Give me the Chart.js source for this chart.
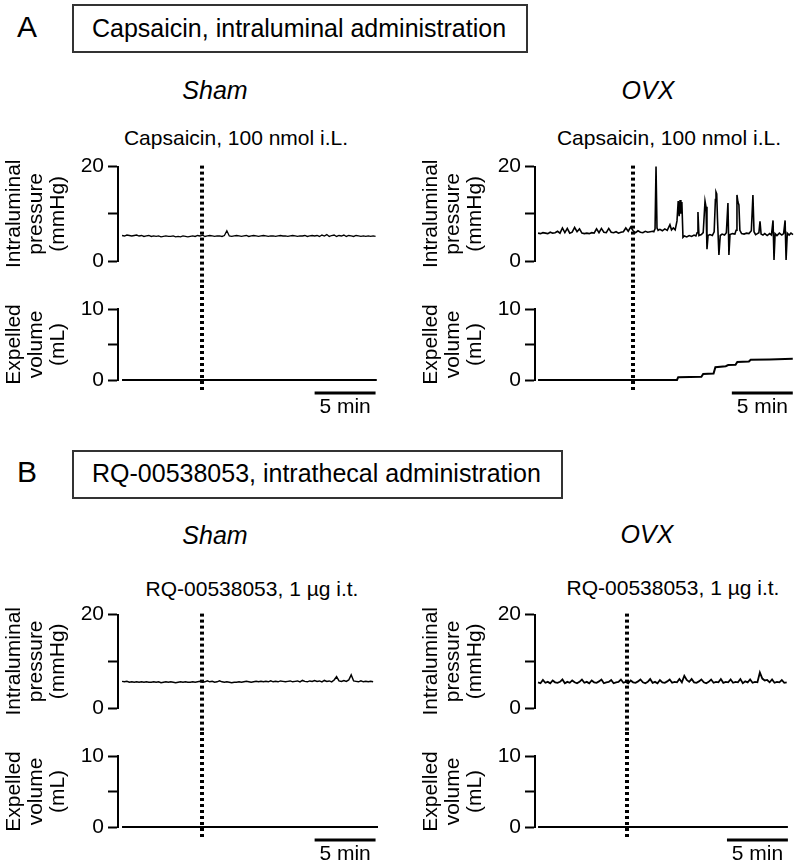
<!DOCTYPE html>
<html>
<head>
<meta charset="utf-8">
<script src="https://cdn.jsdelivr.net/npm/chart.js@4.4.1/dist/chart.umd.min.js"></script>
<style>
body{margin:0;background:#fff;font-family:"Liberation Sans",Arial,sans-serif;}
#wrap{position:relative;width:796px;height:865px;overflow:hidden;}
canvas{position:absolute;}
.lbl{position:absolute;color:#000;white-space:nowrap;}
.c{transform:translateX(-50%);}
.box{position:absolute;border:2px solid #333;box-sizing:border-box;}
</style>
</head>
<body>
<div id="wrap">
  <div class="lbl" style="left:17px;top:12px;font-size:30px;line-height:30px">A</div>
  <div class="box" style="left:72px;top:4px;width:456px;height:49px"></div>
  <div class="lbl" style="left:92px;top:16px;font-size:25px;line-height:25px">Capsaicin, intraluminal administration</div>
  <div class="lbl c" style="left:215px;top:78px;font-size:25px;line-height:25px;font-style:italic">Sham</div>
  <div class="lbl c" style="left:648px;top:78px;font-size:25px;line-height:25px;font-style:italic">OVX</div>
  <div class="lbl c" style="left:236px;top:127px;font-size:21px;line-height:21px">Capsaicin, 100 nmol i.L.</div>
  <div class="lbl c" style="left:669px;top:127px;font-size:21px;line-height:21px">Capsaicin, 100 nmol i.L.</div>

  <div class="lbl" style="left:17px;top:457px;font-size:30px;line-height:30px">B</div>
  <div class="box" style="left:72px;top:450px;width:491px;height:49px"></div>
  <div class="lbl" style="left:92px;top:461px;font-size:25px;line-height:25px">RQ-00538053, intrathecal administration</div>
  <div class="lbl c" style="left:215px;top:523px;font-size:25px;line-height:25px;font-style:italic">Sham</div>
  <div class="lbl c" style="left:647px;top:522px;font-size:25px;line-height:25px;font-style:italic">OVX</div>
  <div class="lbl c" style="left:252px;top:578px;font-size:21px;line-height:21px">RQ-00538053, 1 µg i.t.</div>
  <div class="lbl c" style="left:673px;top:577px;font-size:21px;line-height:21px">RQ-00538053, 1 µg i.t.</div>

  <canvas id="p0"></canvas><canvas id="v0"></canvas>
  <canvas id="p1"></canvas><canvas id="v1"></canvas>
  <canvas id="p2"></canvas><canvas id="v2"></canvas>
  <canvas id="p3"></canvas><canvas id="v3"></canvas>
</div>
<script>
// sampling step of the uniform traces (min)
const dt = 0.2;

// intraluminal pressure (mmHg)
const shamA_pressure = [
  5.4,5.3,5.5,5.4,5.3,5.4,5.5,5.3,5.4,5.2,
  5.3,5.4,5.2,5.3,5.2,5.3,5.1,5.2,5.3,5.2,
  5.2,5.3,5.1,5.2,5.1,5.3,5.2,5.1,5.2,5.3,
  5.2,5.4,5.3,5.5,5.2,5.3,5.4,5.3,5.2,5.3,
  5.3,5.2,5.4,6.4,5.3,5.2,5.3,5.4,5.3,5.2,
  5.3,5.4,5.2,5.3,5.4,5.3,5.2,5.3,5.4,5.3,
  5.2,5.3,5.3,5.2,5.3,5.4,5.3,5.3,5.2,5.3,
  5.4,5.3,5.2,5.3,5.3,5.4,5.2,5.3,5.4,5.3,
  5.4,5.2,5.5,5.3,5.6,5.2,5.4,5.5,5.2,5.4,
  5.3,5.5,5.2,5.4,5.3,5.2,5.4,5.3,5.2,5.3,
  5.2,5.3,5.2,5.3,5.2
];
const ovxA_pressure_base = [
  5.9,5.8,6.0,5.9,5.8,6.1,5.9,6.0,6.3,5.9,
  7.0,6.0,6.9,5.9,6.1,7.1,6.2,6.8,5.9,5.8,
  5.9,5.8,6.0,5.9,6.8,6.0,6.9,6.1,6.0,6.9,
  6.1,6.0,6.2,5.9,6.1,6.2,7.0,6.3,7.2,6.4,
  6.0,6.4,6.1,6.0,6.3,6.1,6.2,6.3
];
// [time (min), pressure] after the first contraction
const ovxA_pressure_after = [
  [9.5,6.2],[9.6,6.8],[9.68,20],[9.76,7.0],[9.85,6.5],[10.0,6.7],[10.2,6.4],[10.4,6.8],
  [10.6,6.5],[10.82,7.7],[10.95,6.6],[11.1,7.0],[11.25,6.6],[11.4,8.5],[11.5,12.7],[11.58,9.5],
  [11.65,12.9],[11.72,10.0],[11.8,12.5],[11.89,5.0],[12.0,5.3],[12.2,5.1],[12.4,5.4],[12.6,5.2],
  [12.8,5.5],[12.95,5.3],[13.05,6.0],[13.12,10.4],[13.2,5.4],[13.4,5.6],[13.55,6.0],[13.7,12.7],
  [13.78,11.5],[13.86,2.5],[13.95,5.4],[14.1,5.6],[14.3,5.4],[14.45,6.2],[14.55,13.0],[14.6,14.6],
  [14.66,14.2],[14.72,9.0],[14.84,1.3],[14.95,5.4],[15.1,5.7],[15.3,5.5],[15.45,6.0],[15.58,12.3],
  [15.66,1.3],[15.75,5.6],[15.95,5.8],[16.15,5.7],[16.25,6.5],[16.32,14.0],[16.4,12.5],[16.48,11.9],
  [16.56,6.5],[16.7,5.8],[16.9,5.7],[17.1,5.9],[17.3,5.8],[17.5,6.4],[17.63,14.0],[17.72,6.2],
  [17.85,5.6],[18.0,5.8],[18.12,6.0],[18.21,8.4],[18.3,5.7],[18.45,5.5],[18.6,5.8],[18.8,5.4],
  [19.0,5.8],[19.15,5.5],[19.28,8.6],[19.36,0.2],[19.45,5.8],[19.6,5.4],[19.8,5.9],[20.0,5.5],
  [20.15,5.8],[20.27,8.6],[20.35,0.2],[20.45,5.9],[20.6,5.5],[20.75,5.9],[20.92,5.6]
];
const shamB_pressure = [
  5.7,5.6,5.7,5.5,5.6,5.5,5.6,5.5,5.6,5.5,
  5.6,5.5,5.5,5.6,5.5,5.6,5.4,5.5,5.6,5.5,
  5.6,5.5,5.4,5.5,5.6,5.5,5.6,5.5,5.5,5.6,
  5.5,5.6,5.7,5.5,5.6,5.8,5.6,5.7,5.5,5.6,
  5.8,5.6,5.5,5.6,5.5,5.4,5.5,5.5,5.6,5.5,
  5.6,5.7,5.6,5.5,5.6,5.7,5.6,5.7,5.6,5.7,
  5.6,5.8,5.6,5.7,5.6,5.8,5.7,5.6,5.7,5.8,
  5.6,5.7,5.8,5.6,5.9,5.7,5.6,5.8,5.7,5.9,
  5.7,5.8,5.6,5.9,5.7,5.8,5.6,6.0,6.7,5.8,
  5.7,5.9,5.7,6.0,7.1,5.8,5.7,5.6,5.8,5.6,
  5.7,5.6,5.7,5.6
];
const ovxB_pressure = [
  5.5,5.3,6.0,5.4,5.6,5.3,5.9,5.5,5.4,5.6,
  6.1,5.3,5.6,5.4,5.9,5.5,5.3,5.6,6.1,5.4,
  5.6,5.3,5.9,5.5,5.4,5.7,6.1,5.3,5.5,5.6,
  6.0,5.3,5.5,5.6,6.1,5.4,5.6,5.3,5.9,5.5,
  5.4,5.7,6.1,5.5,5.3,5.6,6.2,5.4,5.6,5.3,
  6.0,5.5,5.4,5.7,6.1,5.4,5.6,5.5,6.2,5.5,
  6.9,6.0,5.6,6.2,5.5,5.4,5.7,6.1,5.5,5.3,
  5.6,6.1,5.4,5.6,5.5,6.2,5.4,5.6,5.5,6.1,
  5.4,5.6,5.5,6.2,5.3,5.7,5.5,6.1,5.4,5.6,
  5.5,7.6,6.3,5.9,6.0,5.5,6.1,5.4,5.6,5.5,
  6.0,5.4,5.5
];

// expelled volume (mL), [time (min), volume]
const shamA_volume = [[0,0],[20.9,0]];
const ovxA_volume = [
  [0,0],[11.4,0],[11.5,0.4],[13.4,0.45],[13.55,0.85],[14.4,0.9],[14.55,1.8],[15.4,1.95],
  [15.6,2.1],[16.2,2.15],[16.35,2.55],[17.3,2.6],[17.45,2.85],[19.0,2.9],[20.9,3.0]
];
const shamB_volume = [[0,0],[21.0,0]];
const ovxB_volume = [[0,0],[20.5,0]];

// panel order: Sham A, OVX A, Sham B, OVX B
const stimTime = [6.56, 7.79, 6.56, 7.30];
const scaleBarStart = [15.8, 15.9, 15.8, 15.5];
const scaleBarLen = 5;

const pressureTicks = [0, 10, 20];
const pressureTickLabels = ['0', '', '20'];
const volumeTicks = [0, 5, 10];
const volumeTickLabels = ['0', '', '10'];

Chart.defaults.font.family = '"Liberation Sans", Arial, sans-serif';
Chart.defaults.color = '#000';

function uniform(vals) { return vals.map((v, i) => ({x: +(i * dt).toFixed(2), y: v})); }
function pairs(list) { return list.map(p => ({x: p[0], y: p[1]})); }

const traceP = [
  uniform(shamA_pressure),
  uniform(ovxA_pressure_base).concat(pairs(ovxA_pressure_after)),
  uniform(shamB_pressure),
  uniform(ovxB_pressure)
];
const traceV = [pairs(shamA_volume), pairs(ovxA_volume), pairs(shamB_volume), pairs(ovxB_volume)];
const lineW = [1.3, 1.6, 1.5, 1.8];

// layout of columns and rows
const cols = [
  {left: 0, width: 400, axisW: 118, padRight: 22, xMin: -0.33, titlePad: 3},
  {left: 400, width: 396, axisW: 135, padRight: 2, xMin: -0.25, titlePad: 20}
];
const rowsP = [{top: 150, height: 135, padTop: 14, padBottom: 24}, {top: 598, height: 134, padTop: 14, padBottom: 24}];
const rowsV = [{top: 285, height: 155, padTop: 24, padBottom: 60}, {top: 732, height: 133, padTop: 24, padBottom: 38}];

// dotted stimulus line + time scale bar
const marks = {
  id: 'marks',
  afterDatasetsDraw(chart, args, o) {
    const ctx = chart.ctx, a = chart.chartArea, xs = chart.scales.x;
    const x = Math.round(xs.getPixelForValue(o.stim));
    ctx.save();
    ctx.strokeStyle = '#000';
    ctx.lineWidth = 4;
    ctx.setLineDash([3, 3]);
    ctx.beginPath();
    if (o.kind === 'p') { ctx.moveTo(x, a.top - 1); ctx.lineTo(x, chart.height); }
    else { ctx.moveTo(x, 0); ctx.lineTo(x, a.bottom + 12); }
    ctx.stroke();
    if (o.kind === 'v') {
      ctx.setLineDash([]);
      ctx.lineWidth = 3;
      const x1 = xs.getPixelForValue(o.bar), x2 = xs.getPixelForValue(o.bar + scaleBarLen);
      const y = a.bottom + 13;
      ctx.beginPath(); ctx.moveTo(x1, y); ctx.lineTo(x2, y); ctx.stroke();
      ctx.fillStyle = '#000';
      ctx.font = '21px "Liberation Sans", Arial, sans-serif';
      ctx.textAlign = 'center';
      ctx.textBaseline = 'alphabetic';
      ctx.fillText(scaleBarLen + ' min', (x1 + x2) / 2, y + 19.5);
    }
    ctx.restore();
  }
};

function yAxis(kind, col) {
  const isP = kind === 'p';
  const ticks = isP ? pressureTicks : volumeTicks;
  const labels = isP ? pressureTickLabels : volumeTickLabels;
  return {
    type: 'linear', position: 'left', min: 0, max: isP ? 20 : 10,
    afterBuildTicks: s => { s.ticks = ticks.map(v => ({value: v})); },
    afterFit: s => { s.width = col.axisW; },
    ticks: {callback: (v, i) => labels[i], font: {size: 21}, padding: 4, color: '#000'},
    grid: {drawOnChartArea: false, drawTicks: true, tickLength: 10, tickWidth: 2, tickColor: '#000', color: '#000'},
    border: {display: true, color: '#000', width: 2},
    title: {
      display: true,
      text: isP ? ['Intraluminal', 'pressure', '(mmHg)'] : ['Expelled', 'volume', '(mL)'],
      font: {size: 21, lineHeight: 1.05}, color: '#000',
      padding: {top: col.titlePad, bottom: 0}
    }
  };
}

for (let i = 0; i < 4; i++) {
  const col = cols[i % 2];
  const sec = i < 2 ? 0 : 1;
  for (let kind of ['p', 'v']) {
    const row = kind === 'p' ? rowsP[sec] : rowsV[sec];
    const cv = document.getElementById(kind + i);
    cv.width = col.width; cv.height = row.height;
    cv.style.left = col.left + 'px'; cv.style.top = row.top + 'px';
    cv.style.width = col.width + 'px'; cv.style.height = row.height + 'px';
    new Chart(cv.getContext('2d'), {
      type: 'line',
      data: {
        datasets: [{
          data: kind === 'p' ? traceP[i] : traceV[i],
          borderColor: '#000',
          borderWidth: kind === 'p' ? lineW[i] : 2,
          pointRadius: 0,
          tension: 0,
          clip: 4
        }]
      },
      options: {
        responsive: false,
        animation: false,
        events: [],
        layout: {padding: {left: 0, right: col.padRight, top: row.padTop, bottom: row.padBottom}},
        scales: {
          x: {type: 'linear', display: false, min: col.xMin, max: 21},
          y: yAxis(kind, col)
        },
        plugins: {
          legend: {display: false},
          tooltip: {enabled: false},
          marks: {kind: kind, stim: stimTime[i], bar: scaleBarStart[i]}
        }
      },
      plugins: [marks]
    });
  }
}
</script>
</body>
</html>
